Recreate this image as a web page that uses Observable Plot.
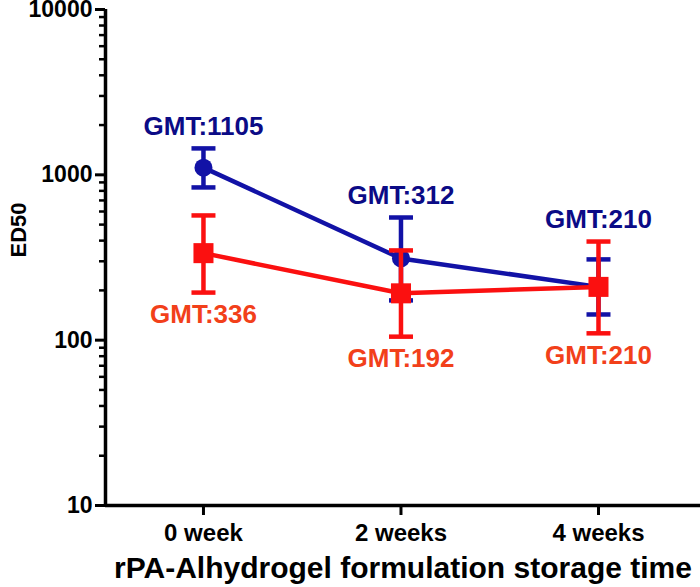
<!DOCTYPE html>
<html>
<head>
<meta charset="utf-8">
<script src="https://cdn.jsdelivr.net/npm/d3@7"></script>
<script src="https://cdn.jsdelivr.net/npm/@observablehq/plot@0.6"></script>
<style>
  html, body { margin: 0; padding: 0; background: #fff; }
</style>
</head>
<body>
<div id="chart"></div>
<script>
// ---- data ----
const weeks = [0, 2, 4];
const weekLabels = ["0 week", "2 weeks", "4 weeks"];
const blueGMT = [1105, 312, 210];
const blueLow = [839, 174, 143];
const blueHigh = [1445, 552, 308];
const redGMT = [336, 192, 210];
const redLow = [194, 105, 110];
const redHigh = [568, 349, 395];
const yMajorTicks = [10, 100, 1000, 10000];
const yTickLabels = ["10", "100", "1000", "10000"];
const yTitle = "ED50";
const xTitle = "rPA-Alhydrogel formulation storage time";

// ---- derived tables ----
const blueRows = weeks.map((w, i) => ({week: w, gmt: blueGMT[i], low: blueLow[i], high: blueHigh[i]}));
const redRows = weeks.map((w, i) => ({week: w, gmt: redGMT[i], low: redLow[i], high: redHigh[i]}));
const labelTop = weeks.map((w, i) => ({week: w, y: Math.max(blueHigh[i], redHigh[i]), text: "GMT:" + blueGMT[i]}));
const labelBottom = weeks.map((w, i) => ({week: w, y: Math.min(blueLow[i], redLow[i]), text: "GMT:" + redGMT[i]}));
const yMinorTicks = [];
for (const dec of [10, 100, 1000]) for (let k = 2; k <= 9; k++) yMinorTicks.push(dec * k);

const BLUE = "#1212a6";
const BLUE_TEXT = "#0b0b86";
const RED = "#fb1010";
const RED_TEXT = "#f2401a";
const xDomain = [-0.992, 5.033];

const capSymbol = {
  draw(ctx, size) {
    const r = Math.sqrt(size / Math.PI);
    ctx.moveTo(-r, 0);
    ctx.lineTo(r, 0);
  }
};

function seriesMarks(rows, color, symbol, r) {
  return [
    Plot.line(rows, {x: "week", y: "gmt", stroke: color, strokeWidth: 4.5}),
    Plot.ruleX(rows, {x: "week", y1: "low", y2: "high", stroke: color, strokeWidth: 4.5}),
    Plot.dot(rows, {x: "week", y: "low", symbol: capSymbol, r: 12, stroke: color, strokeWidth: 4.5, fill: "none"}),
    Plot.dot(rows, {x: "week", y: "high", symbol: capSymbol, r: 12, stroke: color, strokeWidth: 4.5, fill: "none"}),
    Plot.dot(rows, {x: "week", y: "gmt", symbol, r, fill: color, stroke: "none"})
  ];
}

const chart = Plot.plot({
  width: 700,
  height: 587,
  marginLeft: 105,
  marginRight: 0,
  marginTop: 9,
  marginBottom: 82,
  style: {fontFamily: "'Liberation Sans', Arial, sans-serif", fontWeight: "bold", color: "#000", background: "#fff", overflow: "visible"},
  x: {type: "linear", domain: xDomain},
  y: {type: "log", domain: [10, 10000]},
  marks: [
    // minor ticks on the y axis (no labels)
    Plot.dot(yMinorTicks, {x: () => xDomain[0], y: d => d, symbol: capSymbol, r: 3.5, dx: -3, stroke: "#000", strokeWidth: 2.5, fill: "none"}),
    Plot.axisY(yMajorTicks, {tickSize: 10, strokeWidth: 3, tickPadding: 3, fontSize: 23, tickFormat: d => yTickLabels[yMajorTicks.indexOf(d)], label: null}),
    Plot.axisX(weeks, {tickSize: 10, strokeWidth: 3, tickPadding: 8, fontSize: 24, tickFormat: d => weekLabels[weeks.indexOf(d)], label: null}),
    Plot.ruleX([xDomain[0]], {strokeWidth: 3.5}),
    Plot.ruleY([10], {strokeWidth: 3.5}),
    ...seriesMarks(blueRows, BLUE, "circle", 9),
    ...seriesMarks(redRows, RED, "square", 11.3),
    Plot.text(labelTop, {x: "week", y: "y", text: "text", dy: -22, fill: BLUE_TEXT, fontSize: 26, fontWeight: "bold"}),
    Plot.text(labelBottom, {x: "week", y: "y", text: "text", dy: 22, fill: RED_TEXT, fontSize: 26, fontWeight: "bold"}),
    Plot.text([yTitle], {frameAnchor: "left", dx: -87, rotate: -90, fontSize: 22, fontWeight: "bold"}),
    Plot.text([xTitle], {frameAnchor: "bottom", dy: 72, fontSize: 30, fontWeight: "bold"})
  ]
});
document.getElementById("chart").appendChild(chart);
</script>
</body>
</html>
